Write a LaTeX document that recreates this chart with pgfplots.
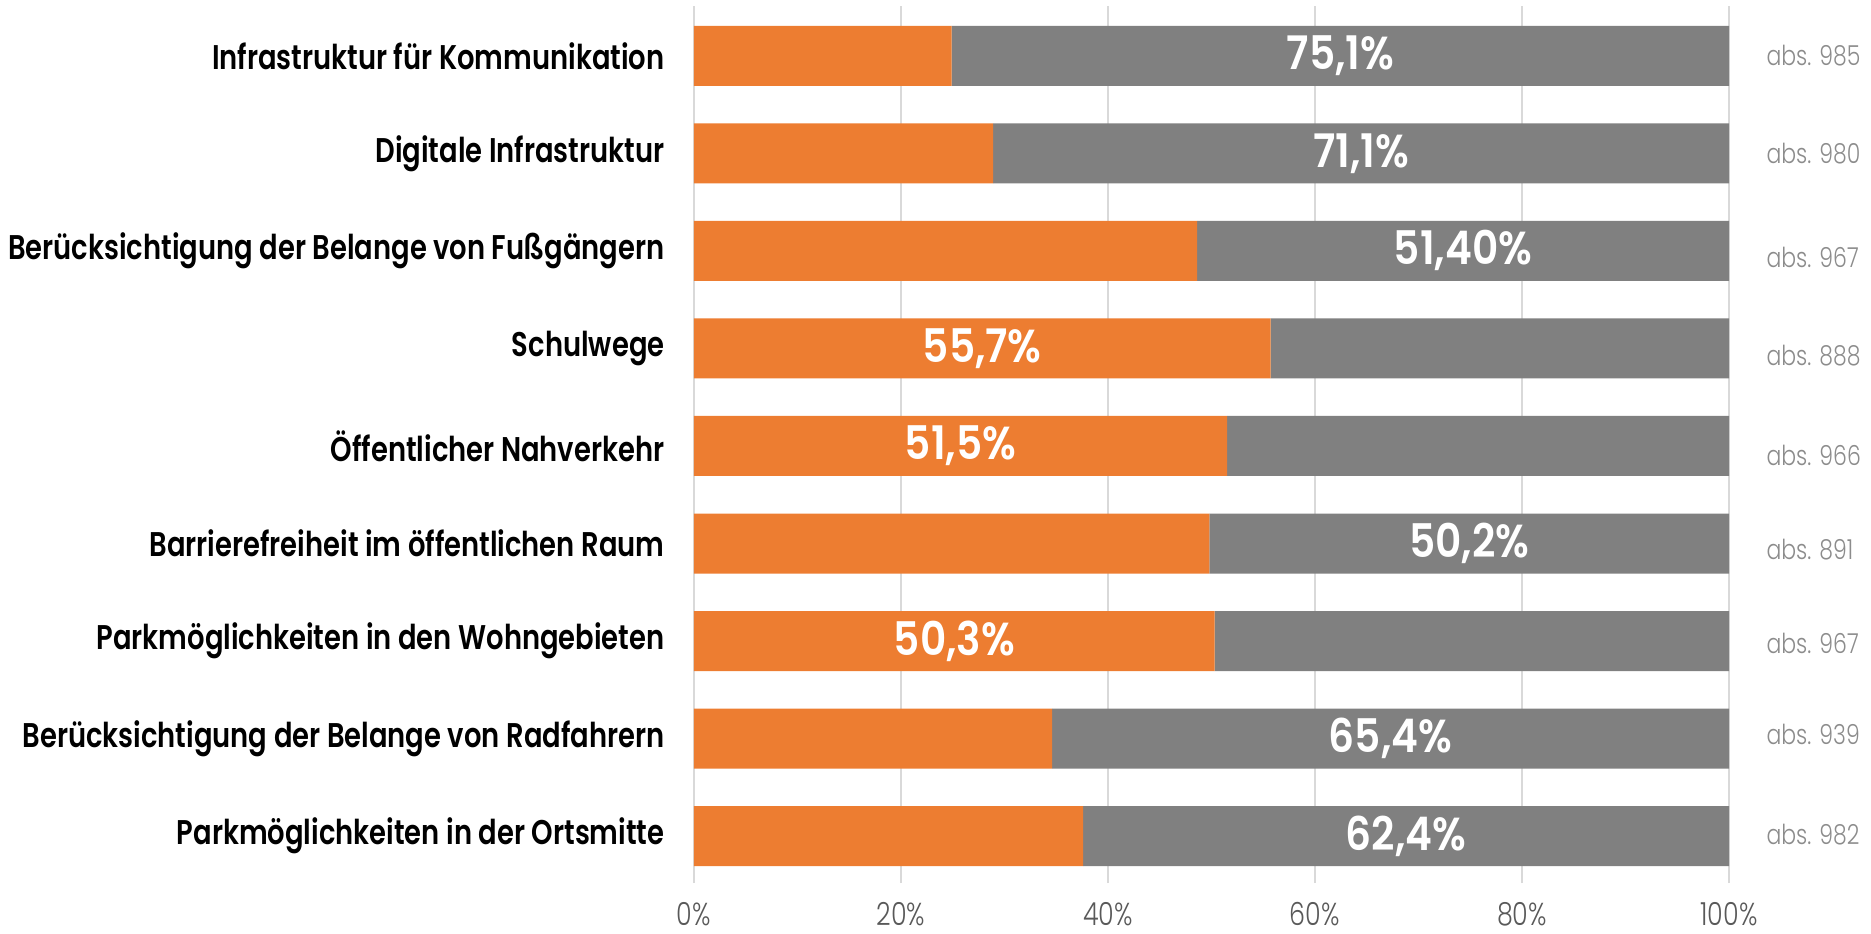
\documentclass[border=0pt]{standalone}
\usepackage{pgfplots}
\pgfplotsset{compat=1.18}
\usepackage{fontspec}
\setmainfont{Poppins}[FakeStretch=0.8]
\newfontfamily\lightfont{Poppins Light}[FakeStretch=0.8]
\newfontfamily\semifont{Poppins SemiBold}[FakeStretch=0.8]
\newfontfamily\valfont{Poppins SemiBold}[FakeStretch=0.88]

\definecolor{barorange}{HTML}{ED7D31}
\definecolor{bargray}{HTML}{808080}
\definecolor{gridgray}{HTML}{D9D9D9}
\definecolor{tickgray}{HTML}{595959}
\definecolor{absgray}{HTML}{8C8C8C}

\tikzset{
    vallabel/.style={text=white, font=\valfont\fontsize{18.5}{20}\selectfont},
    abslabel/.style={anchor=west, text=absgray, xshift=14.8pt, inner sep=0pt,
        font=\lightfont\fontsize{11}{13}\selectfont},
}

\begin{document}
\begin{tikzpicture}
\begin{axis}[
    xbar stacked,
    scale only axis,
    width=414pt, height=350.8pt,
    bar width=24pt,
    xmin=0, xmax=100,
    ymin=0.52, ymax=9.51,
    ytick={1,...,9},
    yticklabels={
        Parkmöglichkeiten in der Ortsmitte,
        Berücksichtigung der Belange von Radfahrern,
        Parkmöglichkeiten in den Wohngebieten,
        Barrierefreiheit im öffentlichen Raum,
        Öffentlicher Nahverkehr,
        Schulwege,
        Berücksichtigung der Belange von Fußgängern,
        Digitale Infrastruktur,
        Infrastruktur für Kommunikation},
    xtick={0,20,...,100},
    xticklabel={\pgfmathprintnumber{\tick}\%},
    /pgf/number format/assume math mode=true,
    xmajorgrids,
    grid style={gridgray, line width=0.8pt},
    axis line style={draw=none},
    major tick length=0pt,
    y tick label style={font=\semifont\fontsize{13.7}{15}\selectfont,
        anchor=east, inner sep=0pt, xshift=-11.6pt},
    x tick label style={font=\lightfont\fontsize{12.7}{15}\selectfont,
        text=tickgray, anchor=center, inner sep=0pt, yshift=-12.5pt},
    clip=false,
    % labels go on top of the (deferred) stacked bars
    after end axis/.code={
        \node[vallabel] at (axis cs:68.8,1) {62,4\%};
        \node[vallabel] at (axis cs:67.3,2) {65,4\%};
        \node[vallabel] at (axis cs:25.15,3) {50,3\%};
        \node[vallabel] at (axis cs:74.9,4) {50,2\%};
        \node[vallabel] at (axis cs:25.75,5) {51,5\%};
        \node[vallabel] at (axis cs:27.85,6) {55,7\%};
        \node[vallabel] at (axis cs:74.3,7) {51,40\%};
        \node[vallabel] at (axis cs:64.45,8) {71,1\%};
        \node[vallabel] at (axis cs:62.45,9) {75,1\%};
    },
]
% share that answered the first category (orange)
\addplot[fill=barorange, draw=none] coordinates {
    (37.6,1) (34.6,2) (50.3,3) (49.8,4) (51.5,5)
    (55.7,6) (48.6,7) (28.9,8) (24.9,9)
};
% remaining share (gray)
\addplot[fill=bargray, draw=none] coordinates {
    (62.4,1) (65.4,2) (49.7,3) (50.2,4) (48.5,5)
    (44.3,6) (51.4,7) (71.1,8) (75.1,9)
};

% absolute counts
\node[abslabel, yshift=0.8pt] at (axis cs:100,1) {abs. 982};
\node[abslabel, yshift=1.6pt] at (axis cs:100,2) {abs. 939};
\node[abslabel, yshift=-0.8pt] at (axis cs:100,3) {abs. 967};
\node[abslabel, yshift=-2.4pt] at (axis cs:100,4) {abs. 891};
\node[abslabel, yshift=-3.6pt] at (axis cs:100,5) {abs. 966};
\node[abslabel, yshift=-3.0pt] at (axis cs:100,6) {abs. 888};
\node[abslabel, yshift=-2.6pt] at (axis cs:100,7) {abs. 967};
\node[abslabel] at (axis cs:100,8) {abs. 980};
\node[abslabel] at (axis cs:100,9) {abs. 985};

\coordinate (ll) at (rel axis cs:0,0);
\coordinate (ur) at (rel axis cs:1,1);
\end{axis}
\pgfresetboundingbox
\path[use as bounding box] ([shift={(-277.6pt,-20pt)}]ll) rectangle ([shift={(56.8pt,2.4pt)}]ur);
\end{tikzpicture}
\end{document}
